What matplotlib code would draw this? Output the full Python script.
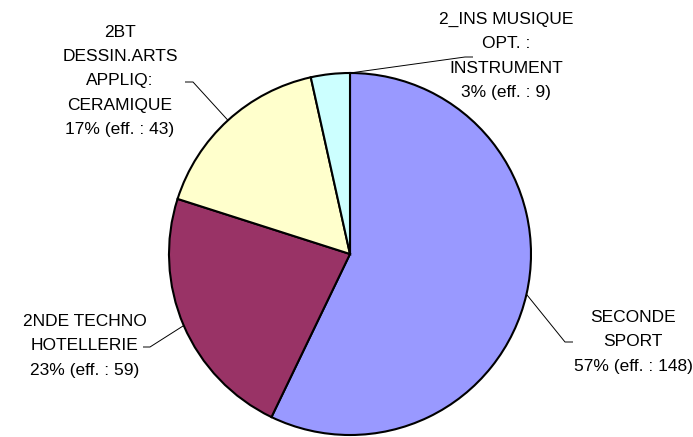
import numpy as np
import matplotlib
matplotlib.use("Agg")
import matplotlib.pyplot as plt

# ---- data ----
categories = ["SECONDE\nSPORT", "2NDE TECHNO\nHOTELLERIE",
              "2BT\nDESSIN.ARTS\nAPPLIQ:\nCERAMIQUE", "2_INS MUSIQUE\nOPT. :\nINSTRUMENT"]
values = [148, 59, 43, 9]
colors = ["#9999FF", "#993366", "#FFFFCC", "#CCFFFF"]

# ---- layout (pixel coords, y measured from top of image) ----
W, H = 693, 437
center_px = (350, 254)
radius_px = 181
label_pos = [(633, 342), (85, 346), (120, 81), (506, 56)]     # text block centres
elbow_pos = [(565, 342), (150, 347), (193, 82), (465, 57)]    # leader elbows
end_pos = [(573, 342), (143, 347), (185, 82), (473, 57)]      # leader ends
anchor_frac = [0.5, 0.5, 0.5, 0.0]   # where along each wedge's arc the leader starts

plt.rcParams['font.family'] = ['Liberation Sans', 'DejaVu Sans']
fig = plt.figure(figsize=(W / 100, H / 100), dpi=100)
ax = fig.add_axes([0, 0, 1, 1])

def fy(y):
    return H - y

wedges, _ = ax.pie(values, colors=colors, startangle=90, counterclock=False,
                   center=(center_px[0], fy(center_px[1])), radius=radius_px,
                   wedgeprops=dict(edgecolor='black', linewidth=1.5), frame=True)
ax.set_xlim(0, W)
ax.set_ylim(0, H)
ax.set_aspect('equal')
ax.axis('off')

total = sum(values)
for i, (w, name, v) in enumerate(zip(wedges, categories, values)):
    a = w.theta1 + anchor_frac[i] * (w.theta2 - w.theta1)
    ang = np.deg2rad(a)
    ax_ = center_px[0] + radius_px * np.cos(ang)
    ay_ = fy(center_px[1]) + radius_px * np.sin(ang)
    ex, ey = elbow_pos[i]
    tx, ty = end_pos[i]
    ax.plot([ax_, ex, tx], [ay_, fy(ey), fy(ty)], color='black', lw=0.7,
            solid_capstyle='butt')
    pct = round(v / total * 100)
    txt = f"{name}\n{pct}% (eff. : {v})"
    lx, ly = label_pos[i]
    ax.text(lx, fy(ly), txt, ha='center', va='center', fontsize=12.5,
            linespacing=1.78, color='black', multialignment='center')

fig.savefig("out.png", dpi=100)
